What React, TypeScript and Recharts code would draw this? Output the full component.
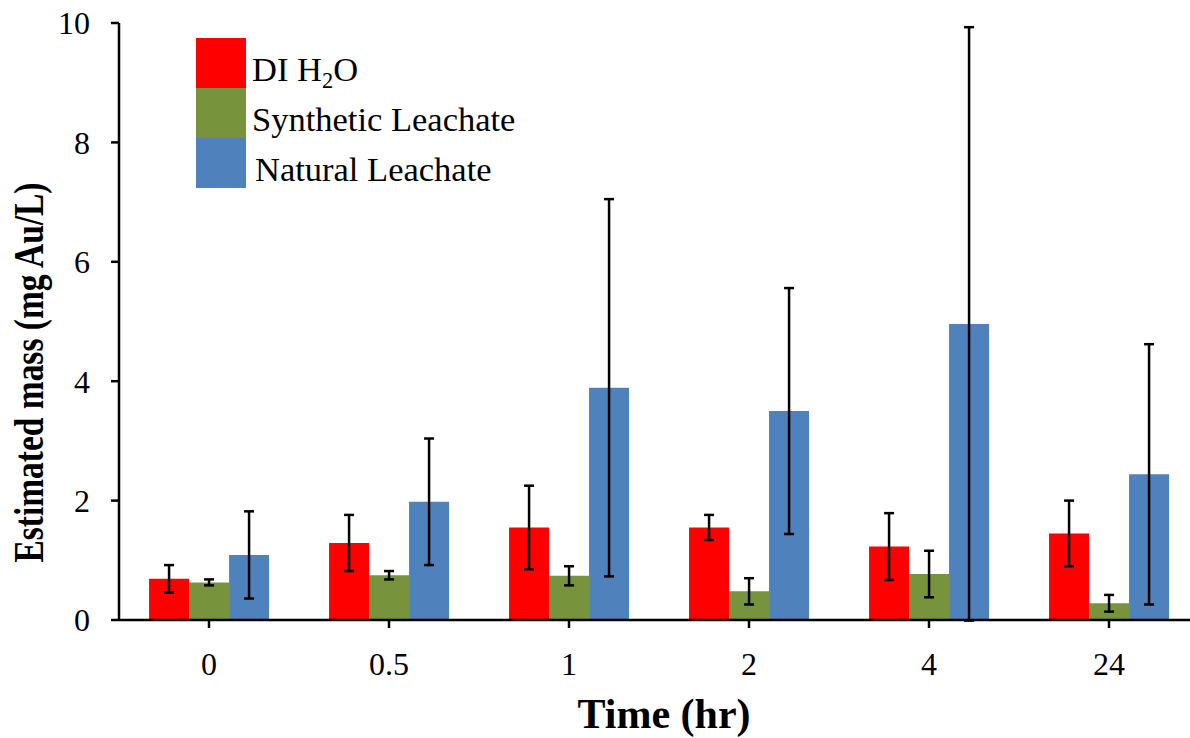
import React from "react";
import { BarChart, Bar, XAxis, YAxis, ErrorBar } from "recharts";

// ─── Data ─────────────────────────────────────────────────────────────────────

const categories = ["0", "0.5", "1", "2", "4", "24"];

const diValues = [0.69, 1.29, 1.55, 1.55, 1.23, 1.45];
const diErrors = [0.23, 0.47, 0.7, 0.21, 0.56, 0.55];

const synValues = [0.63, 0.75, 0.74, 0.48, 0.77, 0.28];
const synErrors = [0.05, 0.07, 0.16, 0.22, 0.39, 0.14];

const natValues = [1.09, 1.98, 3.89, 3.5, 4.96, 2.44];
const natErrors = [0.73, 1.06, 3.16, 2.06, 4.97, 2.18];

const yTicks = [0, 2, 4, 6, 8, 10];

const series = [
  { key: "di", err: "diErr", color: "#FF0000", label: <>DI H<sub style={{ fontSize: "0.65em", verticalAlign: "-0.3em" }}>2</sub>O</> },
  { key: "syn", err: "synErr", color: "#77933C", label: <>Synthetic Leachate</> },
  { key: "nat", err: "natErr", color: "#4F81BD", label: <span style={{ marginLeft: 3 }}>Natural Leachate</span> },
];

const data = categories.map((time, i) => ({
  time,
  di: diValues[i],
  diErr: diErrors[i],
  syn: synValues[i],
  synErr: synErrors[i],
  nat: natValues[i],
  natErr: natErrors[i],
}));

const FONT = "'Liberation Serif', 'Times New Roman', serif";

// ─── Axis titles ──────────────────────────────────────────────────────────────

function YLabel(props: any) {
  const { viewBox } = props;
  const cx = 43;
  const cy = viewBox.y + viewBox.height / 2 + 51;
  return (
    <text
      x={cx}
      y={cy}
      transform={`rotate(-90, ${cx}, ${cy})`}
      textAnchor="middle"
      fontFamily={FONT}
      fontWeight="bold"
      fontSize={42}
      fill="#000"
      textLength={380}
      lengthAdjust="spacingAndGlyphs"
    >
      Estimated mass (mg Au/L)
    </text>
  );
}

function XLabel(props: any) {
  const { viewBox } = props;
  const cx = viewBox.x + viewBox.width / 2 + 5;
  return (
    <text x={cx} y={728} textAnchor="middle" fontFamily={FONT} fontWeight="bold" fontSize={42} fill="#000">
      Time (hr)
    </text>
  );
}

// ─── Component ────────────────────────────────────────────────────────────────

export default function App() {
  const tickStyle = { fill: "#000", fontSize: 32, fontFamily: FONT };
  return (
    <div style={{ position: "absolute", left: 0, top: 0, width: 1190, height: 738, overflow: "hidden", background: "#fff" }}>
      <BarChart
        width={1200}
        height={738}
        data={data}
        margin={{ top: 23, right: 1, bottom: 0, left: 0 }}
        barCategoryGap="16.7%"
        barGap={0}
      >
        <XAxis
          dataKey="time"
          height={118}
          tick={tickStyle}
          tickSize={8}
          tickMargin={24}
          axisLine={{ stroke: "#000", strokeWidth: 2.5 }}
          tickLine={{ stroke: "#000", strokeWidth: 2.5 }}
          label={<XLabel />}
        />
        <YAxis
          width={119}
          domain={[0, 10]}
          ticks={yTicks}
          allowDataOverflow
          tick={tickStyle}
          tickSize={8}
          tickMargin={21}
          axisLine={{ stroke: "#000", strokeWidth: 2.5 }}
          tickLine={{ stroke: "#000", strokeWidth: 2.5 }}
          label={<YLabel />}
        />
        {series.map((s) => (
          <Bar key={s.key} dataKey={s.key} fill={s.color} isAnimationActive={false}>
            <ErrorBar dataKey={s.err} width={5} stroke="#000" strokeWidth={2.5} direction="y" />
          </Bar>
        ))}
      </BarChart>

      {/* ── Legend ── */}
      <div style={{ position: "absolute", left: 196, top: 38, fontFamily: FONT, fontSize: 34.5, color: "#000" }}>
        {series.map((s) => (
          <div key={s.key} style={{ display: "flex", alignItems: "flex-start", height: 50 }}>
            <div style={{ width: 50, height: 50, background: s.color }} />
            <div style={{ marginLeft: 6, lineHeight: "50px", position: "relative", top: 6, whiteSpace: "nowrap" }}>
              {s.label}
            </div>
          </div>
        ))}
      </div>
    </div>
  );
}
